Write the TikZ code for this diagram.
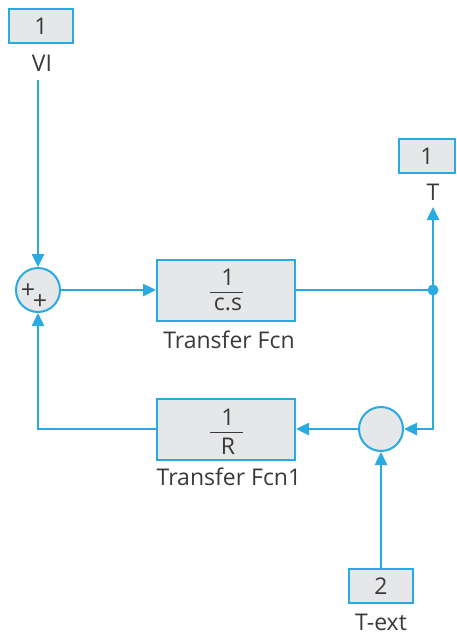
\documentclass[tikz,border=0pt]{standalone}
\usepackage{fontspec}
\setmainfont{Open Sans}
\usetikzlibrary{arrows.meta}
\definecolor{sigblue}{HTML}{29ABE2}
\definecolor{blockgray}{HTML}{E6E7E8}
\definecolor{ink}{HTML}{3A3A3A}
\begin{document}
\begin{tikzpicture}[x={(1pt,0)},y={(0,-1pt)},
  wire/.style={draw=sigblue,line width=2.5pt},
  sig/.style={wire,-{Triangle[length=13pt,width=12pt]}},
  port/.style={draw=sigblue,fill=blockgray,line width=2.5pt,minimum width=64pt,minimum height=34pt,inner sep=0pt,font=\fontsize{23}{24}\selectfont,text=ink},
  block/.style={draw=sigblue,fill=blockgray,line width=2pt,minimum width=138pt,minimum height=61pt,inner sep=0pt},
  sumblk/.style={circle,draw=sigblue,fill=blockgray,line width=2pt,minimum size=44pt,inner sep=0pt},
  lbl/.style={font=\fontsize{23}{24}\selectfont,text=ink,inner sep=0pt},
  frac/.style={font=\fontsize{23}{24}\selectfont,text=ink,inner sep=0pt},
  plus/.style={font=\fontsize{25}{25}\selectfont,text=ink,inner sep=0pt}]
\useasboundingbox (0,0) rectangle (456,638);
\fill[white] (0,0) rectangle (456,638);

% ports
\node[port] (in1) at (41,26) {1};
\node[lbl] (in1l) at (42,63) {VI};
\node[port,minimum width=56pt] (out1) at (427,156) {1};
\node[lbl] (out1l) at (433,192) {T};
\node[port] (in2) at (381,586) {2};
\node[lbl] (in2l) at (381,622) {T-ext};

% sum blocks
\node[sumblk] (sum1) at (38,290) {};
\node[plus] (p1) at (28,291) {+};
\node[plus] (p2) at (40,302) {+};
\node[sumblk] (sum2) at (381,429) {};

% transfer functions
\node[block] (tf) at (226,290) {};
\node[frac] (tfn) at (228,277) {1};
\node[frac] (tfd) at (228,304) {c.s};
\coordinate (tfa) at (210,292);
\coordinate (tfb) at (243,292);
\draw[line width=1pt,ink] (tfa) -- (tfb);
\node[lbl] (tfl) at (229,340) {Transfer Fcn};

\node[block] (tf1) at (226,429) {};
\node[frac] (tf1n) at (228,417) {1};
\node[frac] (tf1d) at (228,446) {R};
\coordinate (tf1a) at (210,432);
\coordinate (tf1b) at (243,432);
\draw[line width=1pt,ink] (tf1a) -- (tf1b);
\node[lbl] (tf1l) at (229,477) {Transfer Fcn1};

% junction and branch points
\coordinate (j) at (433,290);
\coordinate (vstart) at (38,80);
\coordinate (tout) at (433,207);

% signals
\draw[sig] (vstart) -- (sum1.north);
\draw[sig] (sum1.east) -- (tf.west);
\draw[wire] (tf.east) -- (j);
\draw[sig] (j) -- (tout);
\draw[sig] (j) |- (sum2.east);
\draw[sig] (sum2.west) -- (tf1.east);
\draw[sig] (tf1.west) -| (sum1.south);
\draw[sig] (in2.north) -- (sum2.south);
\fill[sigblue] (j) circle (5.5pt);
\end{tikzpicture}
\end{document}
